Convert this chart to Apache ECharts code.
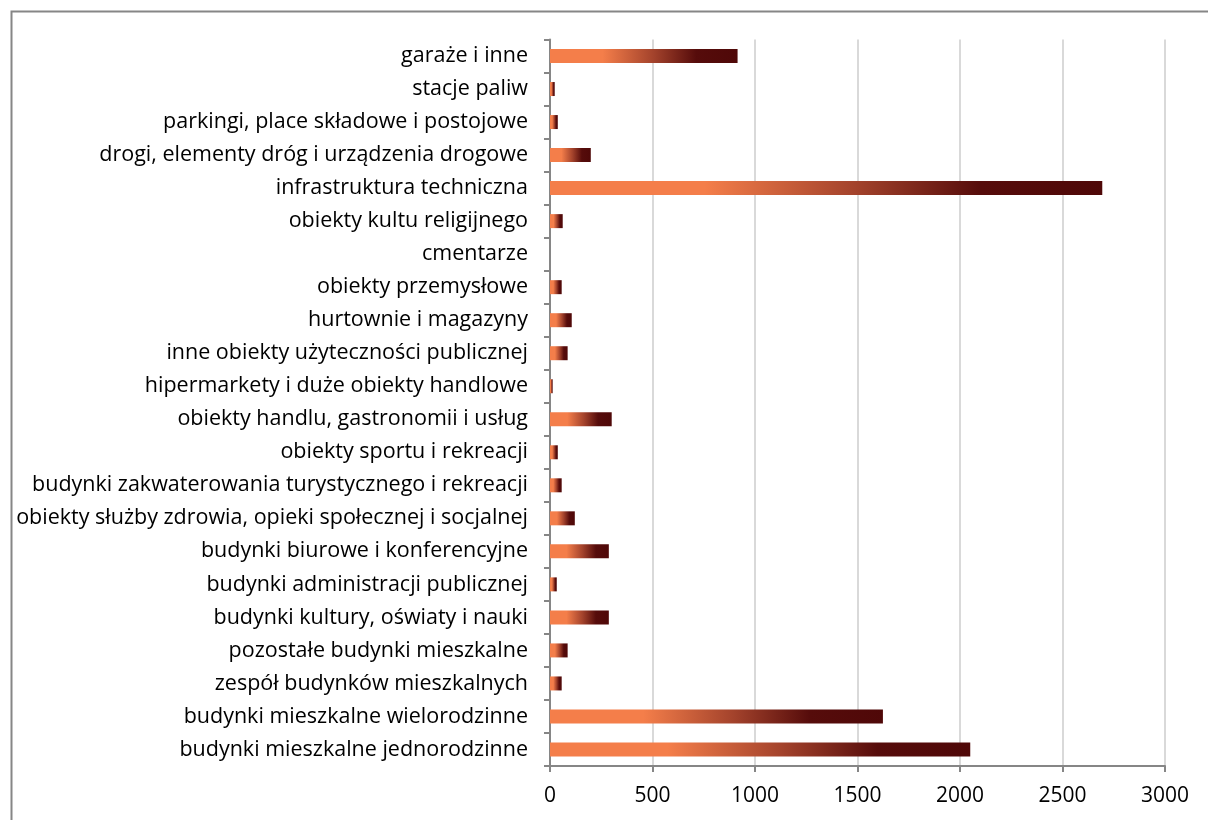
<!DOCTYPE html>
<html><head><meta charset="utf-8">
<script src="https://cdn.jsdelivr.net/npm/echarts@6/dist/echarts.min.js"></script>
<style>html,body{margin:0;padding:0;background:#fff}#c{width:1208px;height:820px}</style>
</head><body><div id="c"></div>
<script>
const categories = [
  "garaże i inne",
  "stacje paliw",
  "parkingi, place składowe i postojowe",
  "drogi, elementy dróg i urządzenia drogowe",
  "infrastruktura techniczna",
  "obiekty kultu religijnego",
  "cmentarze",
  "obiekty przemysłowe",
  "hurtownie i magazyny",
  "inne obiekty użyteczności publicznej",
  "hipermarkety i duże obiekty handlowe",
  "obiekty handlu, gastronomii i usług",
  "obiekty sportu i rekreacji",
  "budynki zakwaterowania turystycznego i rekreacji",
  "obiekty służby zdrowia, opieki społecznej i socjalnej",
  "budynki biurowe i konferencyjne",
  "budynki administracji publicznej",
  "budynki kultury, oświaty i nauki",
  "pozostałe budynki mieszkalne",
  "zespół budynków mieszkalnych",
  "budynki mieszkalne wielorodzinne",
  "budynki mieszkalne jednorodzinne"
];
const values = [915, 23, 38, 199, 2694, 62, 0, 57, 106, 86, 13, 301, 38, 57, 121, 287, 33, 287, 86, 57, 1624, 2050];
const xTicks = [0, 500, 1000, 1500, 2000, 2500, 3000];

const chart = echarts.init(document.getElementById('c'));
const grad = new echarts.graphic.LinearGradient(0, 0, 1, 0, [
  {offset: 0, color: '#F47E4A'},
  {offset: 0.28, color: '#F47E4A'},
  {offset: 0.55, color: '#A4432C'},
  {offset: 0.78, color: '#560C0B'},
  {offset: 1, color: '#4F0808'}
]);
chart.setOption({
  animation: false,
  backgroundColor: '#fff',
  graphic: [{
    type: 'rect', left: 9, top: 9,
    shape: {x: 0, y: 0, width: 1220, height: 830},
    style: {fill: 'none', stroke: '#868686', lineWidth: 2},
    silent: true, z: -1
  }],
  grid: {left: 550, right: 43, top: 39.5, bottom: 54, containLabel: false},
  xAxis: {
    type: 'value', min: 0, max: 3000, interval: 500,
    axisLine: {show: true, lineStyle: {color: '#868686', width: 2}},
    axisTick: {show: true, length: 6, lineStyle: {color: '#868686', width: 2}},
    splitLine: {show: true, lineStyle: {color: '#D9D9D9', width: 2}},
    axisLabel: {
      color: '#000', fontFamily: 'Open Sans', fontSize: 21, margin: 20,
      formatter: v => xTicks.includes(v) ? String(v) : ''
    }
  },
  yAxis: {
    type: 'category', data: categories, inverse: true,
    axisLine: {show: true, lineStyle: {color: '#868686', width: 2}},
    axisTick: {show: true, length: 6, lineStyle: {color: '#868686', width: 2}},
    axisLabel: {color: '#000', fontFamily: 'Open Sans', fontSize: 21.5, margin: 22}
  },
  series: [{
    type: 'bar', data: values, barWidth: 14,
    itemStyle: {color: grad}
  }]
});
</script></body></html>
